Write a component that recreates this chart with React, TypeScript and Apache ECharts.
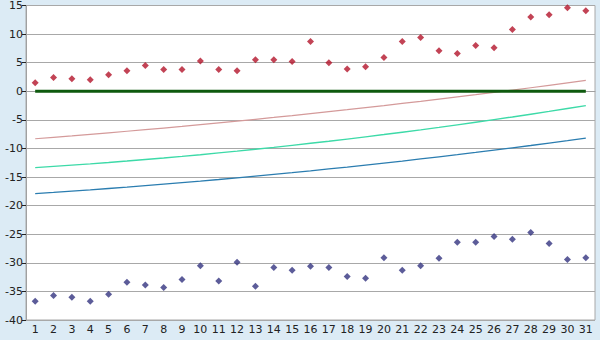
import React, { useEffect, useRef } from "react";
import * as echarts from "echarts";

const categories = Array.from({ length: 31 }, (_, i) => String(i + 1));

const redPoints = [1.5, 2.4, 2.2, 2.0, 2.9, 3.6, 4.5, 3.8, 3.8, 5.3, 3.8, 3.6, 5.5, 5.5, 5.2, 8.7, 5.0, 3.9, 4.3, 5.9, 8.7, 9.4, 7.1, 6.6, 8.0, 7.6, 10.8, 13.0, 13.4, 14.6, 14.1];
const bluePoints = [-36.7, -35.7, -36.0, -36.7, -35.5, -33.4, -33.9, -34.3, -32.9, -30.5, -33.2, -29.9, -34.1, -30.8, -31.3, -30.6, -30.8, -32.4, -32.7, -29.1, -31.3, -30.5, -29.2, -26.4, -26.4, -25.4, -25.9, -24.7, -26.6, -29.4, -29.1];
const pinkLine = [-8.3, -8.05, -7.8, -7.54, -7.27, -6.99, -6.71, -6.43, -6.14, -5.84, -5.53, -5.22, -4.9, -4.58, -4.25, -3.91, -3.57, -3.22, -2.86, -2.5, -2.13, -1.76, -1.38, -0.99, -0.6, -0.2, 0.21, 0.62, 1.04, 1.47, 1.9];
const greenLine = [-13.35, -13.14, -12.92, -12.69, -12.45, -12.2, -11.93, -11.66, -11.38, -11.09, -10.78, -10.47, -10.14, -9.81, -9.46, -9.1, -8.74, -8.36, -7.97, -7.57, -7.16, -6.75, -6.32, -5.87, -5.42, -4.96, -4.49, -4.01, -3.52, -3.01, -2.5];
const blueLine = [-17.9, -17.69, -17.47, -17.24, -17.0, -16.76, -16.51, -16.25, -15.98, -15.71, -15.43, -15.14, -14.84, -14.54, -14.23, -13.91, -13.58, -13.25, -12.9, -12.55, -12.2, -11.83, -11.46, -11.08, -10.69, -10.29, -9.89, -9.48, -9.06, -8.64, -8.2];
const zeroLine = [0, 0, 0, 0, 0, 0, 0, 0, 0, 0, 0, 0, 0, 0, 0, 0, 0, 0, 0, 0, 0, 0, 0, 0, 0, 0, 0, 0, 0, 0, 0];

export default function App() {
  const ref = useRef<HTMLDivElement>(null);
  useEffect(() => {
    document.body.style.margin = "0";
    const chart = echarts.init(ref.current!, null, { renderer: "svg" });
    const font = "DejaVu Sans, Verdana, sans-serif";
    const lineSeries = (data: number[], color: string, width: number) => ({
      type: "line",
      data,
      symbol: "none",
      lineStyle: { color, width },
      itemStyle: { color },
      silent: true,
    });
    chart.setOption({
      animation: false,
      backgroundColor: "#dcebf5",
      grid: {
        left: 26,
        right: 5,
        top: 5,
        bottom: 20,
        show: true,
        backgroundColor: "#ffffff",
        borderColor: "#a8a8a8",
        borderWidth: 1,
      },
      xAxis: {
        type: "category",
        data: categories,
        boundaryGap: true,
        axisLine: { lineStyle: { color: "#a0a0a0" } },
        axisTick: { alignWithLabel: true, length: 5, lineStyle: { color: "#222" } },
        axisLabel: { fontSize: 11, color: "#222", fontFamily: font, margin: 4, interval: 0 },
        splitLine: { show: false },
      },
      yAxis: {
        type: "value",
        min: -40,
        max: 15,
        interval: 5,
        axisLine: { show: true, lineStyle: { color: "#a0a0a0" } },
        axisTick: { show: true, length: 4, lineStyle: { color: "#222" } },
        axisLabel: { fontSize: 11, color: "#222", fontFamily: font, margin: 3 },
        splitLine: { lineStyle: { color: "#a8a8a8", width: 1 } },
      },
      series: [
        lineSeries(pinkLine, "#d49a9a", 1.2),
        lineSeries(greenLine, "#3ddaa8", 1.4),
        lineSeries(blueLine, "#2b7db0", 1.3),
        lineSeries(zeroLine, "#0e5a0e", 3),
        {
          type: "scatter",
          data: redPoints,
          symbol: "diamond",
          symbolSize: 7,
          itemStyle: { color: "#b3142a" },
        },
        {
          type: "scatter",
          data: bluePoints,
          symbol: "diamond",
          symbolSize: 7,
          itemStyle: { color: "#33337f" },
        },
      ],
    });
    return () => chart.dispose();
  }, []);
  return <div ref={ref} style={{ width: 600, height: 340 }} />;
}
